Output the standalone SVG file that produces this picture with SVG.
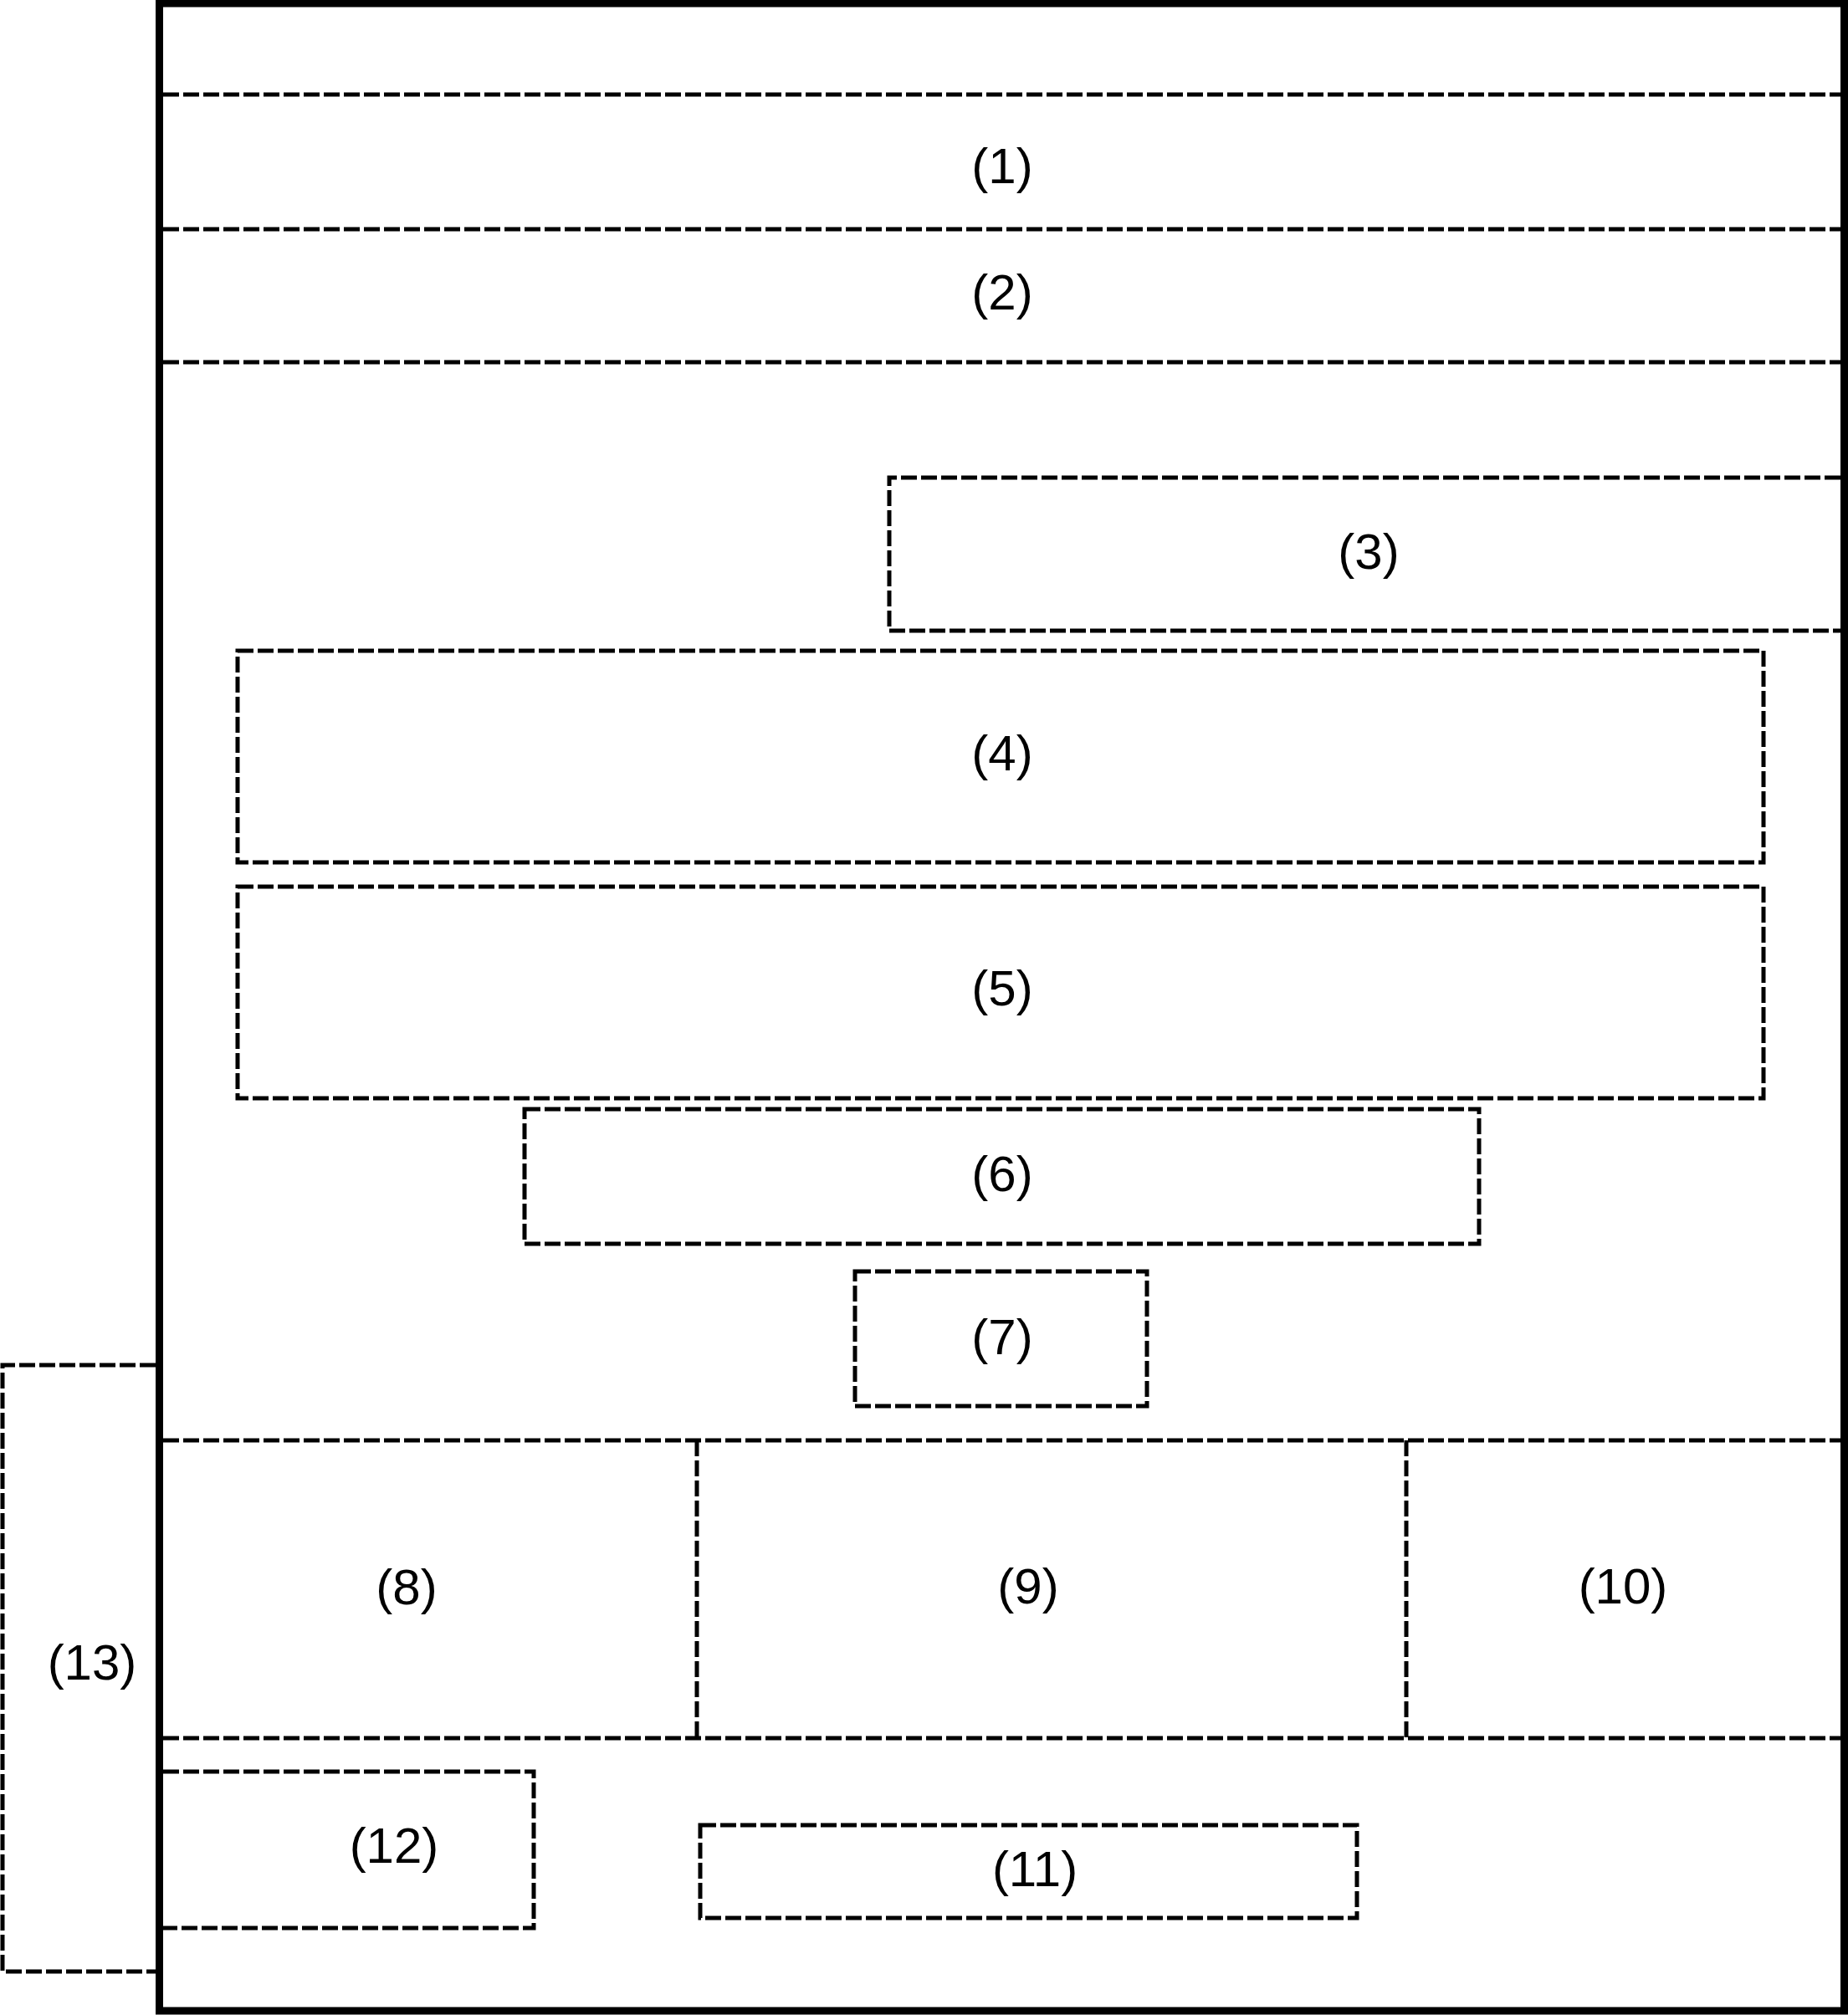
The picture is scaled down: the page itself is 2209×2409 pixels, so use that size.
<svg xmlns="http://www.w3.org/2000/svg" width="2209" height="2409" viewBox="0 0 2209 2409">
<style>
.frame{fill:none;stroke:#000;stroke-width:9}
.d{fill:none;stroke:#000;stroke-width:5;stroke-dasharray:19 5}
.t{font-family:"Liberation Sans",Arial,sans-serif;font-size:60px;fill:#000;text-anchor:middle}
</style>
<rect width="2209" height="2409" fill="#fff"/>
<g id="frame"><rect class="frame" x="190.5" y="4" width="2014" height="2400"/></g>
<g id="connectors">
<line class="d" x1="195" y1="113" x2="2200" y2="113"/>
<line class="d" x1="195" y1="274" x2="2200" y2="274"/>
<line class="d" x1="195" y1="433" x2="2200" y2="433"/>
<line class="d" x1="195" y1="1722" x2="2200" y2="1722"/>
<line class="d" x1="195" y1="2078" x2="2200" y2="2078"/>
<line class="d" x1="833" y1="1722" x2="833" y2="2078"/>
<line class="d" x1="1681" y1="1722" x2="1681" y2="2078"/>
</g>
<g id="n1"><text class="t" x="1198" y="219">(1)</text></g>
<g id="n2"><text class="t" x="1198" y="370">(2)</text></g>
<g id="n3"><path class="d" d="M2200 571 H1063 V754 H2200"/><text class="t" x="1636" y="680">(3)</text></g>
<g id="n4"><rect class="d" x="284" y="778" width="1824" height="253"/><text class="t" x="1198" y="921">(4)</text></g>
<g id="n5"><rect class="d" x="284" y="1060" width="1824" height="253"/><text class="t" x="1198" y="1202">(5)</text></g>
<g id="n6"><rect class="d" x="627" y="1326" width="1141" height="161"/><text class="t" x="1198" y="1424">(6)</text></g>
<g id="n7"><rect class="d" x="1022" y="1520" width="349" height="161"/><text class="t" x="1198" y="1619">(7)</text></g>
<g id="n8"><text class="t" x="486" y="1918">(8)</text></g>
<g id="n9"><text class="t" x="1229" y="1917">(9)</text></g>
<g id="n10"><text class="t" x="1940" y="1917">(10)</text></g>
<g id="n11"><rect class="d" x="837" y="2182" width="785" height="111"/><text class="t" x="1237" y="2255">(11)</text></g>
<g id="n12"><path class="d" d="M195 2118 H638 V2305 H195"/><text class="t" x="471" y="2227">(12)</text></g>
<g id="n13"><path class="d" d="M186 1632 H3 V2357 H186"/><text class="t" x="110" y="2008">(13)</text></g>
</svg>
